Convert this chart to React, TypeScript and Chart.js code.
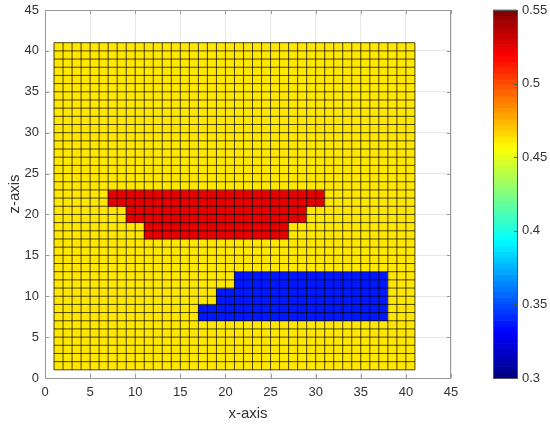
import React, { useEffect, useRef } from 'react';
import { Chart, registerables } from 'chart.js';
Chart.register(...registerables);

// ---- data ----
const gridXRange = [1, 41]; // cell edges along x
const gridZRange = [1, 41]; // cell edges along z
const backgroundValue = 0.463;
// blocks: [xFrom, xTo, zFrom, zTo]
const redBlocks = [
  [7, 31, 21, 23],
  [9, 29, 19, 21],
  [11, 27, 17, 19],
];
const redValue = 0.525;
const blueBlocks = [
  [21, 38, 11, 13],
  [19, 38, 9, 11],
  [17, 38, 7, 9],
];
const blueValue = 0.338;
const axisTicks = [0, 5, 10, 15, 20, 25, 30, 35, 40, 45];
const colorbarTicks = [0.3, 0.35, 0.4, 0.45, 0.5, 0.55];
const colorbarLabels = ['0.3', '0.35', '0.4', '0.45', '0.5', '0.55'];
const cMin = 0.3;
const cMax = 0.55;

function clamp01(v: number) { return Math.max(0, Math.min(1, v)); }
function jetColor(v: number) {
  const t = clamp01((v - cMin) / (cMax - cMin));
  const idx = Math.min(63, Math.floor(t * 64));
  const x = (idx + 0.5) / 64;
  const r = clamp01(1.5 - Math.abs(4 * x - 3));
  const g = clamp01(1.5 - Math.abs(4 * x - 2));
  const b = clamp01(1.5 - Math.abs(4 * x - 1));
  return `rgb(${Math.round(r * 255)},${Math.round(g * 255)},${Math.round(b * 255)})`;
}

function cellValue(cx: number, cz: number) {
  for (const [x0, x1, z0, z1] of redBlocks) {
    if (cx > x0 && cx < x1 && cz > z0 && cz < z1) return redValue;
  }
  for (const [x0, x1, z0, z1] of blueBlocks) {
    if (cx > x0 && cx < x1 && cz > z0 && cz < z1) return blueValue;
  }
  return backgroundValue;
}

function buildCells() {
  const cells: { x: number; y: number; v: number }[] = [];
  for (let ix = gridXRange[0]; ix < gridXRange[1]; ix++) {
    for (let iz = gridZRange[0]; iz < gridZRange[1]; iz++) {
      const cx = ix + 0.5, cz = iz + 0.5;
      cells.push({ x: cx, y: cz, v: cellValue(cx, cz) });
    }
  }
  return cells;
}

const FONT = "'Liberation Sans', Arial, Helvetica, sans-serif";
const TEXT = '#333333';
const AXIS = '#9a9a9a';

function zeroPad(s: any) {
  s.paddingTop = 0; s.paddingBottom = 0; s.paddingLeft = 0; s.paddingRight = 0;
}

export default function App() {
  const ref = useRef<HTMLCanvasElement>(null);
  useEffect(() => {
    const canvas = ref.current!;
    Chart.defaults.font.family = FONT;

    const heatmapPlugin = {
      id: 'heatmap',
      beforeDatasetsDraw(chart: any) {
        const { ctx } = chart;
        const xs = chart.scales.x, ys = chart.scales.y;
        const data = chart.data.datasets[0].data as any[];
        ctx.save();
        for (const c of data) {
          const x0 = xs.getPixelForValue(c.x - 0.5), x1 = xs.getPixelForValue(c.x + 0.5);
          const y0 = ys.getPixelForValue(c.y + 0.5), y1 = ys.getPixelForValue(c.y - 0.5);
          ctx.fillStyle = jetColor(c.v);
          ctx.fillRect(x0 - 0.3, y0 - 0.3, x1 - x0 + 0.6, y1 - y0 + 0.6);
        }
        ctx.strokeStyle = 'rgba(0,0,0,0.7)';
        ctx.lineWidth = 1;
        ctx.beginPath();
        const zb = ys.getPixelForValue(gridZRange[0]), zt = ys.getPixelForValue(gridZRange[1]);
        const xl = xs.getPixelForValue(gridXRange[0]), xr = xs.getPixelForValue(gridXRange[1]);
        for (let gx = gridXRange[0]; gx <= gridXRange[1]; gx++) {
          const p = xs.getPixelForValue(gx);
          ctx.moveTo(p, zb); ctx.lineTo(p, zt);
        }
        for (let gz = gridZRange[0]; gz <= gridZRange[1]; gz++) {
          const p = ys.getPixelForValue(gz);
          ctx.moveTo(xl, p); ctx.lineTo(xr, p);
        }
        ctx.stroke();
        ctx.restore();
      },
      afterDraw(chart: any) {
        const { ctx, chartArea: a } = chart;
        const xs = chart.scales.x, ys = chart.scales.y, cb = chart.scales.cb;
        ctx.save();
        ctx.strokeStyle = AXIS;
        ctx.lineWidth = 1;
        ctx.strokeRect(Math.round(a.left) + 0.5, Math.round(a.top) + 0.5, Math.round(a.right - a.left) - 1, Math.round(a.bottom - a.top));
        ctx.beginPath();
        const tl = 4;
        for (const t of axisTicks) {
          const px = Math.round(xs.getPixelForValue(t)) + 0.5;
          ctx.moveTo(px, a.bottom); ctx.lineTo(px, a.bottom - tl);
          ctx.moveTo(px, a.top); ctx.lineTo(px, a.top + tl);
          const py = Math.round(ys.getPixelForValue(t)) + 0.5;
          ctx.moveTo(a.left, py); ctx.lineTo(a.left + tl, py);
          ctx.moveTo(a.right, py); ctx.lineTo(a.right - tl, py);
        }
        ctx.stroke();
        const bl = cb.left + 42, bw = 24;
        const top = cb.getPixelForValue(cMax), bot = cb.getPixelForValue(cMin);
        const n = 64;
        for (let i = 0; i < n; i++) {
          const v0 = cMin + (cMax - cMin) * i / n;
          const v1 = cMin + (cMax - cMin) * (i + 1) / n;
          const yA = cb.getPixelForValue(v1), yB = cb.getPixelForValue(v0);
          ctx.fillStyle = jetColor((v0 + v1) / 2);
          ctx.fillRect(bl, yA - 0.3, bw, yB - yA + 0.6);
        }
        ctx.strokeStyle = '#555';
        ctx.strokeRect(Math.round(bl) + 0.5, Math.round(top) + 0.5, bw, Math.round(bot - top));
        ctx.beginPath();
        for (const t of colorbarTicks) {
          const py = Math.round(cb.getPixelForValue(t)) + 0.5;
          ctx.moveTo(bl + bw, py); ctx.lineTo(bl + bw - 3, py);
        }
        ctx.stroke();
        ctx.restore();
      },
    };

    const chart = new Chart(canvas, {
      type: 'scatter',
      data: {
        datasets: [{ data: buildCells(), pointRadius: 0, pointHoverRadius: 0, showLine: false, xAxisID: 'x', yAxisID: 'y' }],
      },
      options: {
        responsive: true,
        maintainAspectRatio: false,
        animation: false,
        events: [],
        layout: { padding: { top: 10, left: 0, right: 0, bottom: 0 } },
        plugins: { legend: { display: false }, tooltip: { enabled: false } },
        scales: {
          x: {
            type: 'linear', position: 'bottom', min: 0, max: 45,
            afterBuildTicks: (s: any) => { s.ticks = axisTicks.map((v) => ({ value: v })); },
            afterFit: (s: any) => { s.height = 46; zeroPad(s); },
            ticks: { autoSkip: false, maxRotation: 0, padding: 7, color: TEXT, font: { size: 13 } },
            grid: { color: '#e8e8e8', drawTicks: false },
            border: { display: false },
            title: { display: true, text: 'x-axis', color: TEXT, font: { size: 15 }, padding: { top: 0, bottom: 1 } },
          },
          y: {
            type: 'linear', position: 'left', min: 0, max: 45,
            afterBuildTicks: (s: any) => { s.ticks = axisTicks.map((v) => ({ value: v })); },
            afterFit: (s: any) => { s.width = 45; zeroPad(s); },
            ticks: { autoSkip: false, padding: 6, color: TEXT, font: { size: 13 } },
            grid: { color: '#e8e8e8', drawTicks: false },
            border: { display: false },
            title: { display: true, text: 'z-axis', color: TEXT, font: { size: 15 }, padding: { top: 6, bottom: 0 } },
          },
          cb: {
            type: 'linear', position: 'right', min: cMin, max: cMax,
            afterBuildTicks: (s: any) => { s.ticks = colorbarTicks.map((v) => ({ value: v })); },
            afterFit: (s: any) => { s.width = 99; zeroPad(s); },
            ticks: {
              autoSkip: false, padding: 71, color: TEXT, font: { size: 13 },
              callback: (v: any) => {
                const i = colorbarTicks.findIndex((t) => Math.abs(t - Number(v)) < 1e-9);
                return i >= 0 ? colorbarLabels[i] : '';
              },
            },
            grid: { display: false, drawTicks: false },
            border: { display: false },
          },
        },
      } as any,
      plugins: [heatmapPlugin],
    });
    return () => chart.destroy();
  }, []);

  return (
    <div style={{ position: 'fixed', left: 0, top: 0, width: 550, height: 424, background: '#fff' }}>
      <canvas ref={ref} />
    </div>
  );
}
